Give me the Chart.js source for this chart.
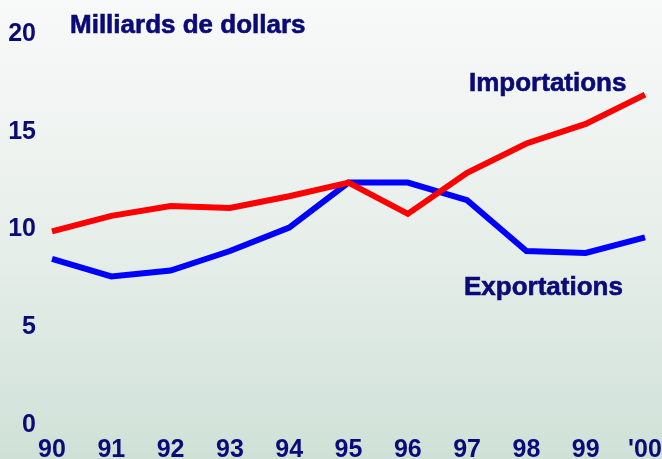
<!DOCTYPE html>
<html>
<head>
<meta charset="utf-8">
<script src="https://cdn.jsdelivr.net/npm/chart.js@4"></script>
<style>
  html, body { margin: 0; padding: 0; background: #ffffff; }
  #wrap { width: 662px; height: 459px; }
</style>
</head>
<body>
<div id="wrap"><canvas id="chart" width="662" height="459"></canvas></div>
<script>
// data
const years = ['90', '91', '92', '93', '94', '95', '96', '97', '98', '99', "'00"];
const importations = [9.9, 10.7, 11.2, 11.1, 11.7, 12.4, 10.8, 12.9, 14.4, 15.4, 16.9];
const exportations = [8.5, 7.6, 7.9, 8.9, 10.1, 12.4, 12.4, 11.5, 8.9, 8.8, 9.6];
const yTicks = [0, 5, 10, 15, 20];

const NAVY = '#0a0a78';
const FONT = '"Liberation Sans", Arial, sans-serif';

// green-ish gradient behind everything
const backgroundPlugin = {
    id: 'bgGradient',
    beforeDraw(chart) {
        const ctx = chart.ctx;
        const g = ctx.createLinearGradient(0, 0, 0, chart.height);
        g.addColorStop(0, '#f8f9f9');
        g.addColorStop(0.5, '#e8efeb');
        g.addColorStop(1, '#cfe1d7');
        ctx.save();
        ctx.fillStyle = g;
        ctx.fillRect(0, 0, chart.width, chart.height);
        ctx.restore();
    }
};

// unit title and the two series names
const labelsPlugin = {
    id: 'textLabels',
    afterDraw(chart) {
        const ctx = chart.ctx;
        ctx.save();
        ctx.fillStyle = NAVY;
        ctx.strokeStyle = NAVY;
        ctx.lineWidth = 0.6;
        ctx.font = 'bold 26px ' + FONT;
        ctx.textBaseline = 'alphabetic';
        ctx.textAlign = 'left';
        [['Milliards de dollars', 70, 33], ['Importations', 469, 91], ['Exportations', 464, 295]]
            .forEach(([txt, x, y]) => {
                ctx.fillText(txt, x, y);
                ctx.strokeText(txt, x, y);
            });
        ctx.restore();
    }
};

let ctx = document.getElementById('chart').getContext('2d');
window.myChart = new Chart(ctx, {
    type: 'line',
    data: {
        labels: years,
        datasets: [{
            label: 'Importations',
            data: importations,
            borderColor: '#ff0000',
            borderWidth: 6,
            pointRadius: 0,
            tension: 0
        }, {
            label: 'Exportations',
            data: exportations,
            borderColor: '#0000ff',
            borderWidth: 6,
            pointRadius: 0,
            tension: 0
        }]
    },
    options: {
        responsive: false,
        animation: false,
        layout: {
            padding: { top: 34, right: 17, left: 0, bottom: 0 }
        },
        plugins: {
            legend: { display: false },
            tooltip: { enabled: false }
        },
        scales: {
            x: {
                offset: false,
                grid: { display: false, drawTicks: false },
                border: { display: false },
                ticks: {
                    color: NAVY,
                    font: { family: FONT, size: 25, weight: 'bold' },
                    padding: 10,
                    maxRotation: 0,
                    autoSkip: false
                },
                afterFit(scale) {
                    scale.height = 34;
                    scale.paddingLeft = 0;
                    scale.paddingRight = 0;
                }
            },
            y: {
                min: 0,
                max: 20,
                afterBuildTicks(scale) {
                    scale.ticks = yTicks.map(v => ({ value: v }));
                },
                grid: { display: false, drawTicks: false },
                border: { display: false },
                ticks: {
                    color: NAVY,
                    font: { family: FONT, size: 25, weight: 'bold' },
                    padding: 16
                },
                afterFit(scale) {
                    scale.width = 52;
                    scale.paddingTop = 0;
                    scale.paddingBottom = 0;
                }
            }
        }
    },
    plugins: [backgroundPlugin, labelsPlugin]
});
</script>
</body>
</html>
